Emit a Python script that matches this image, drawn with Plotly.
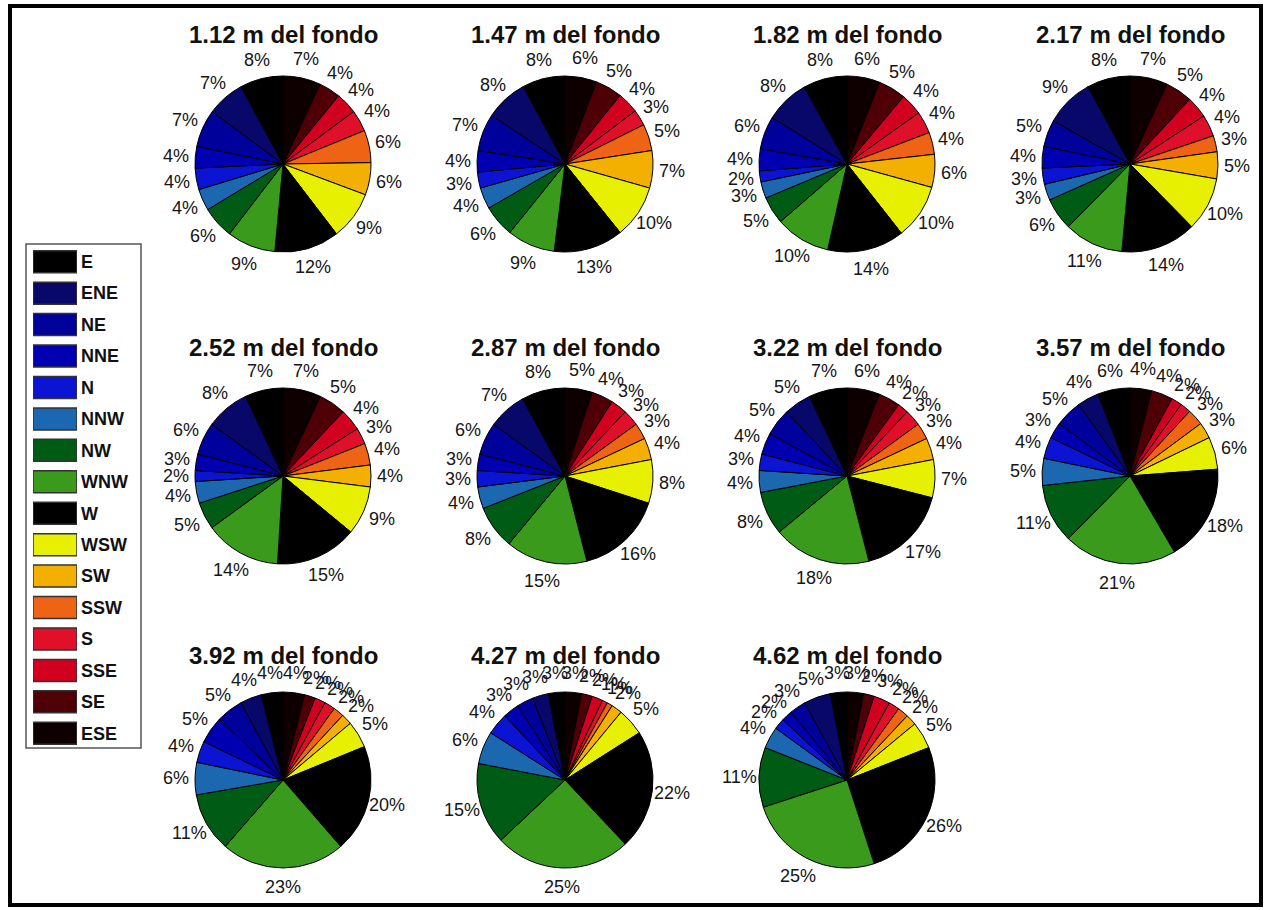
import math
import plotly.graph_objects as go

W, H = 1269, 910

directions = ["E", "ENE", "NE", "NNE", "N", "NNW", "NW", "WNW",
              "W", "WSW", "SW", "SSW", "S", "SSE", "SE", "ESE"]
colors = ["#000000", "#08086a", "#00009a", "#0000b2", "#0a14d2", "#1c68b0",
          "#005c14", "#3a9a1c", "#000000", "#e6f000", "#f4b000", "#ee6414",
          "#e0102a", "#d0001e", "#4e0006", "#0e0000"]

heights = ["1.12", "1.47", "1.82", "2.17", "2.52", "2.87",
           "3.22", "3.57", "3.92", "4.27", "4.62"]

p112 = [8, 7, 7, 4, 4, 4, 6, 9, 12, 9, 6, 6, 4, 4, 4, 7]
p147 = [8, 8, 7, 4, 3, 4, 6, 9, 13, 10, 7, 5, 3, 4, 5, 6]
p182 = [8, 8, 6, 4, 2, 3, 5, 10, 14, 10, 6, 4, 4, 4, 5, 6]
p217 = [8, 9, 5, 4, 3, 3, 6, 11, 14, 10, 5, 3, 4, 4, 5, 7]
p252 = [7, 8, 6, 3, 2, 4, 5, 14, 15, 9, 4, 4, 3, 4, 5, 7]
p287 = [8, 7, 6, 3, 3, 4, 8, 15, 16, 8, 4, 3, 3, 3, 4, 5]
p322 = [7, 5, 5, 4, 3, 4, 8, 18, 17, 7, 4, 3, 3, 2, 4, 6]
p357 = [6, 4, 5, 3, 4, 5, 11, 21, 18, 6, 3, 3, 2, 2, 4, 4]
p392 = [4, 4, 5, 5, 4, 6, 11, 23, 20, 5, 2, 2, 2, 2, 2, 4]
p427 = [3, 3, 3, 3, 4, 6, 15, 25, 22, 5, 2, 1, 1, 2, 2, 3]
p462 = [3, 5, 3, 2, 2, 4, 11, 25, 26, 5, 2, 2, 2, 3, 2, 3]

series = [p112, p147, p182, p217, p252, p287, p322, p357, p392, p427, p462]

# layout of the pie grid (pixels)
col_cx = [283, 565, 847, 1130]
row_cy = [164, 476, 780]
title_y = [35, 347, 655]
R = 88
LABEL_R = 1.22

FONT = "Liberation Sans, Arial, sans-serif"

fig = go.Figure()
annotations = []
for i, (h, vals) in enumerate(zip(heights, series)):
    r, c = divmod(i, 4)
    cx, cy = col_cx[c], row_cy[r]
    # slices run counter-clockwise from 12 o'clock starting with E
    # (drawn here clockwise with the order reversed)
    fig.add_trace(go.Pie(
        values=vals[::-1],
        labels=directions[::-1],
        textinfo="none",
        sort=False,
        direction="clockwise",
        rotation=0,
        marker=dict(colors=colors[::-1], line=dict(color="#000000", width=1)),
        domain=dict(x=[(cx - R) / W, (cx + R) / W],
                    y=[1 - (cy + R) / H, 1 - (cy - R) / H]),
        showlegend=False,
        hoverinfo="label+value",
    ))
    # percentage labels, placed like MATLAB's pie() at ~1.2 radius
    total = float(sum(vals))
    cum = 0.0
    for v in vals:
        mid = (cum + v / 2.0) / total
        cum += v
        th = math.pi / 2 + 2 * math.pi * mid
        lx = cx + LABEL_R * R * math.cos(th)
        ly = cy - LABEL_R * R * math.sin(th)
        annotations.append(dict(
            text=f"{v}%", x=lx / W, y=1 - ly / H, xref="paper", yref="paper",
            showarrow=False, xanchor="center", yanchor="middle",
            font=dict(family=FONT, size=18, color="#151515"),
        ))
    annotations.append(dict(
        text=f"{h} m del fondo", x=cx / W, y=1 - title_y[r] / H,
        xref="paper", yref="paper", showarrow=False,
        xanchor="center", yanchor="middle",
        font=dict(family=FONT, size=24, color="#111111", weight="bold"),
    ))

# legend drawn as a small bar chart
fig.add_trace(go.Bar(
    x=[1] * len(directions), y=directions, orientation="h",
    marker=dict(color=colors, line=dict(color="#333333", width=1.5)),
    width=0.7, showlegend=False, hoverinfo="y",
    xaxis="x", yaxis="y",
))

leg_top, leg_bot = 246, 749
fig.update_layout(
    width=W, height=H,
    margin=dict(l=0, r=0, t=0, b=0),
    paper_bgcolor="white", plot_bgcolor="white",
    showlegend=False,
    annotations=annotations,
    xaxis=dict(domain=[33 / W, 77 / W], range=[0, 1], visible=False, fixedrange=True),
    yaxis=dict(domain=[1 - leg_bot / H, 1 - leg_top / H],
               categoryorder="array", categoryarray=directions,
               autorange="reversed", side="right",
               showgrid=False, showline=False, zeroline=False, ticks="",
               ticklabelstandoff=3,
               tickfont=dict(family=FONT, size=18, color="#111111", weight="bold")),
    shapes=[
        dict(type="rect", xref="paper", yref="paper",
             x0=26 / W, x1=141 / W, y0=1 - 748 / H, y1=1 - 244 / H,
             line=dict(color="#555555", width=1.5)),
        dict(type="rect", xref="paper", yref="paper",
             x0=10 / W, x1=1261 / W, y0=1 - 905 / H, y1=1 - 6 / H,
             line=dict(color="#000000", width=4)),
    ],
)

fig.write_html("out.html", config={"displayModeBar": False},
               post_script="document.body.style.margin='0';document.body.style.overflow='hidden';")
